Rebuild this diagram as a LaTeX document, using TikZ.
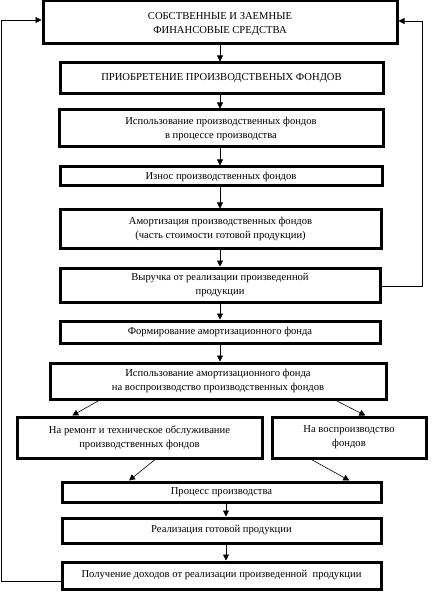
\documentclass[tikz,border=0pt]{standalone}
\usepackage{fontspec}
\setmainfont{Liberation Serif}
\usetikzlibrary{arrows.meta,calc}
\begin{document}
\begin{tikzpicture}[x=1pt,y=-1pt,
  box/.style={draw,line width=3pt,inner sep=0pt,align=center,
    font=\fontsize{10.6}{14}\selectfont},
  arr/.style={line width=0.6pt,-{Triangle[length=6pt,width=6pt]}}]
\useasboundingbox[fill=white] (0,0) rectangle (434,593);
\node[box,minimum width=354,minimum height=43] (b1) at (220,22.5) {\raisebox{-4pt}[0pt][0pt]{СОБСТВЕННЫЕ И ЗАЕМНЫЕ}\\\raisebox{-4pt}[0pt][0pt]{ФИНАНСОВЫЕ СРЕДСТВА}};
\node[box,minimum width=323,minimum height=31] (b2) at (221.5,78.5) {\raisebox{3pt}{ПРИОБРЕТЕНИЕ ПРОИЗВОДСТВЕНЫХ ФОНДОВ}};
\node[box,minimum width=324,minimum height=37] (b3) at (221,128.5) {Использование производственных фондов\\в процессе производства};
\node[box,minimum width=322,minimum height=19] (b4) at (221,176.5) {Износ производственных фондов};
\node[box,minimum width=321,minimum height=38] (b5) at (220.5,229) {Амортизация производственных фондов\\(часть стоимости готовой продукции)};
\node[box,minimum width=320,minimum height=34] (b6) at (220,285) {Выручка от реализации произведенной\\продукции};
\node[box,minimum width=320,minimum height=22] (b7) at (220,332) {Формирование амортизационного фонда};
\node[box,minimum width=336,minimum height=36] (b8) at (218,381) {Использование амортизационного фонда\\на воспроизводство производственных фондов};
\node[box,minimum width=245,minimum height=41] (b9) at (139.5,437.5) {На ремонт и техническое обслуживание\\производственных фондов};
\node[box,minimum width=154,minimum height=41] (b10) at (349,437.5) {На воспроизводство\\фондов};
\node[box,minimum width=319,minimum height=20] (b11) at (221.5,492) {Процесс производства};
\node[box,minimum width=319,minimum height=25] (b12) at (221.5,530.5) {Реализация готовой продукции};
\node[box,minimum width=319,minimum height=27] (b13) at (221.5,575.5) {Получение доходов от реализации произведенной \ продукции};
% vertical arrows
\draw[arr] (b1.south) -- (b1.south |- b2.north);
\draw[arr] (b1.south |- b2.south) -- (b1.south |- b3.north);
\draw[arr] (b1.south |- b3.south) -- (b1.south |- b4.north);
\draw[arr] (b1.south |- b4.south) -- (b1.south |- b5.north);
\draw[arr] (b1.south |- b5.south) -- (b1.south |- b6.north);
\draw[arr] (b1.south |- b6.south) -- (b1.south |- b7.north);
\draw[arr] (b1.south |- b7.south) -- (b1.south |- b8.north);
\draw[arr] ([xshift=4.5pt]b11.south) -- ([xshift=4.5pt]b12.north);
\draw[arr] ([xshift=4.5pt]b12.south) -- ([xshift=4.5pt]b13.north);
% diagonal arrows
\draw[arr] ($(b8.south west)!0.149!(b8.south east)$) -- ($(b9.north west)!0.229!(b9.north east)$);
\draw[arr] ($(b8.south west)!0.848!(b8.south east)$) -- ($(b10.north west)!0.604!(b10.north east)$);
\draw[arr] ($(b9.south west)!0.563!(b9.south east)$) -- ($(b11.north west)!0.213!(b11.north east)$);
\draw[arr] ($(b10.south west)!0.26!(b10.south east)$) -- ($(b11.north west)!0.897!(b11.north east)$);
% feedback loops
\draw[arr] ([yshift=-6pt]b13.west) -- ++(-59,0) |- ([yshift=2.5pt]b1.west);
\draw[arr] ([yshift=-1pt]b6.east) -- ++(41,0) |- ([yshift=1.5pt]b1.east);
\end{tikzpicture}
\end{document}
